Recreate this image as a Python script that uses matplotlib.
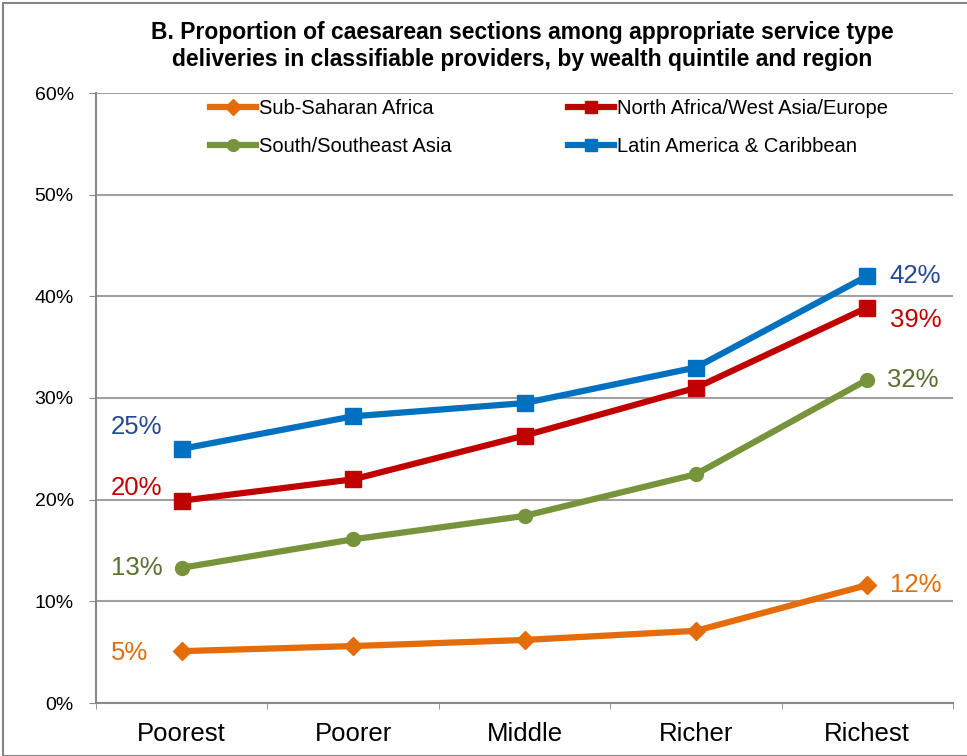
import matplotlib
matplotlib.use("Agg")
import matplotlib.pyplot as plt
from matplotlib.patches import Rectangle
from matplotlib.ticker import FuncFormatter

quintiles = ["Poorest", "Poorer", "Middle", "Richer", "Richest"]

ssa = [5.1, 5.6, 6.2, 7.1, 11.6]
nawa = [19.9, 22.0, 26.3, 31.0, 38.9]
ssea = [13.3, 16.1, 18.4, 22.5, 31.8]
lac = [25.0, 28.2, 29.5, 33.0, 42.0]

title = ("B. Proportion of caesarean sections among appropriate service type\n"
         "deliveries in classifiable providers, by wealth quintile and region")

plt.rcParams["font.family"] = ["Liberation Sans", "DejaVu Sans"]

fig = plt.figure(figsize=(9.67, 7.56), dpi=100)
ax = fig.add_axes([96 / 967, 53 / 756, 857 / 967, 610 / 756])

x = range(len(quintiles))
series = [
    ("Sub-Saharan Africa", ssa, "#E46C0A", "D", 9),
    ("North Africa/West Asia/Europe", nawa, "#C00000", "s", 11),
    ("South/Southeast Asia", ssea, "#77933C", "o", 10),
    ("Latin America & Caribbean", lac, "#0070C0", "s", 11),
]
lines = {}
for name, vals, col, mk, ms in series:
    lines[name], = ax.plot(x, vals, color=col, lw=4.5, marker=mk, ms=ms, label=name,
                           solid_joinstyle="round", zorder=3)

# end labels
label_cols = {"ssa": "#E46C0A", "nawa": "#C00000", "ssea": "#5A7030", "lac": "#254A94"}
def lab(xi, v, col, dx, dy, ha):
    ax.annotate("%d%%" % round(v), (xi, v), xytext=(dx, dy), textcoords="offset points",
                ha=ha, va="center", fontsize=18.5, color=col)

lab(0, ssa[0], label_cols["ssa"], -24, -1, "right")
lab(0, nawa[0], label_cols["nawa"], -14, 9, "right")
lab(0, ssea[0], label_cols["ssea"], -14, 0, "right")
lab(0, lac[0], label_cols["lac"], -14, 16, "right")
lab(4, ssa[4], label_cols["ssa"], 16, 0, "left")
lab(4, nawa[4], label_cols["nawa"], 16, -9, "left")
lab(4, ssea[4], label_cols["ssea"], 14, 0, "left")
lab(4, lac[4], label_cols["lac"], 16, 0, "left")

ax.set_xlim(-0.5, 4.5)
ax.set_ylim(0, 60)
ax.set_yticks(range(0, 61, 10))
ax.yaxis.set_major_formatter(FuncFormatter(lambda v, p: "%d%%" % v))
ax.set_xticks(list(x))
ax.set_xticklabels(quintiles, fontsize=18.5)
ax.set_xticks([-0.5, 0.5, 1.5, 2.5, 3.5, 4.5], minor=True)
ax.tick_params(axis="x", which="major", length=0, pad=14)
ax.tick_params(axis="x", which="minor", length=4, color="#898989", direction="out")
ax.tick_params(axis="y", labelsize=14, length=5, color="#898989", direction="out", pad=11)
ax.yaxis.grid(True, color="#A0A0A0", lw=1.5)
ax.set_axisbelow(True)
for s in ["top", "right"]:
    ax.spines[s].set_visible(False)
for s in ["left", "bottom"]:
    ax.spines[s].set_color("#898989")
    ax.spines[s].set_linewidth(1.5)

# two rows: SSA / NAWA on top, SSEA / LAC below (legend fills column-wise)
order = ["Sub-Saharan Africa", "South/Southeast Asia",
         "North Africa/West Asia/Europe", "Latin America & Caribbean"]
ax.legend([lines[n] for n in order], order, loc="upper left",
          bbox_to_anchor=(0.133, 0.99), borderaxespad=0, borderpad=0,
          ncol=2, frameon=False, fontsize=14.5, handlelength=2.3,
          handletextpad=0.15, columnspacing=5.75, labelspacing=0.95,
          markerscale=0.85)

fig.text(0.54, 1 - 46 / 756, title, ha="center", va="center", fontsize=16.5,
         fontweight="bold", linespacing=1.25)

fig.patches.append(Rectangle((3 / 967, 0), 2, 1 - 3 / 756, transform=fig.transFigure,
                             fill=False, edgecolor="#868686", lw=1.5))

fig.savefig("out.png", dpi=100)
